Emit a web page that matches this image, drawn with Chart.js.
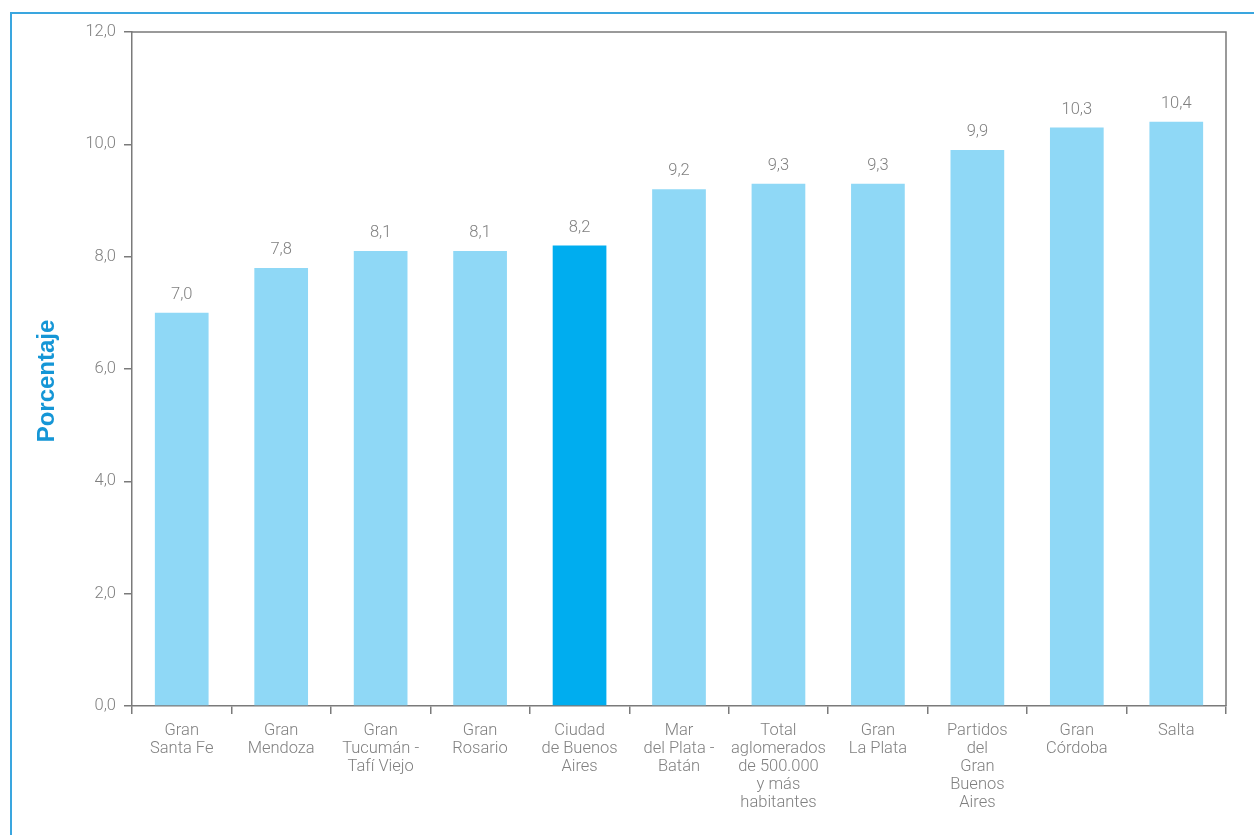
<!DOCTYPE html>
<html>
<head>
<meta charset="utf-8">
<script src="https://cdn.jsdelivr.net/npm/chart.js@4"></script>
<style>
  html, body { margin: 0; padding: 0; background: #fff; }
  #wrap { width: 1254px; height: 835px; position: relative; }
</style>
</head>
<body>
<div id="wrap"><canvas id="myChart" width="1254" height="835"></canvas></div>
<script>
const ctx = document.getElementById("myChart");

/* data */
var categories = [
  ["Gran", "Santa Fe"],
  ["Gran", "Mendoza"],
  ["Gran", "Tucumán -", "Tafí Viejo"],
  ["Gran", "Rosario"],
  ["Ciudad", "de Buenos", "Aires"],
  ["Mar", "del Plata -", "Batán"],
  ["Total", "aglomerados", "de 500.000", "y más", "habitantes"],
  ["Gran", "La Plata"],
  ["Partidos", "del", "Gran", "Buenos", "Aires"],
  ["Gran", "Córdoba"],
  ["Salta"],
];
var values = [7.0, 7.8, 8.1, 8.1, 8.2, 9.2, 9.3, 9.3, 9.9, 10.3, 10.4];
var highlight = 4; // Ciudad de Buenos Aires
var yTicks = [0, 2, 4, 6, 8, 10, 12];
var yTitle = "Porcentaje";

var lightBlue = "#8fd8f6";
var strongBlue = "#00adef";
var grey = "#808080";

function fmt(v) {
  return v.toFixed(1).replace(".", ",");
}

/* frame, plot border, axis title and value labels */
const extras = {
  id: "extras",
  beforeDraw(chart) {
    const c = chart.ctx;
    c.save();
    c.strokeStyle = "#3aa6df";
    c.lineWidth = 2;
    c.beginPath();
    c.moveTo(11, 900);
    c.lineTo(11, 13);
    c.lineTo(1300, 13);
    c.stroke();

    // y axis title
    c.translate(47, 381);
    c.rotate(-Math.PI / 2);
    c.fillStyle = "#1596d6";
    c.font = "bold 24px 'Liberation Sans', Arial";
    c.textAlign = "center";
    c.textBaseline = "middle";
    c.fillText(yTitle, 0, 0);
    c.restore();
  },
  afterDatasetsDraw(chart) {
    const c = chart.ctx;
    const a = chart.chartArea;
    c.save();
    c.strokeStyle = "#7a7a7a";
    c.lineWidth = 1.5;
    c.beginPath();
    c.moveTo(a.left, a.top);
    c.lineTo(a.right, a.top);
    c.lineTo(a.right, a.bottom);
    c.stroke();

    c.fillStyle = grey;
    c.font = "300 16.5px Roboto";
    c.textAlign = "center";
    c.textBaseline = "middle";
    const meta = chart.getDatasetMeta(0);
    meta.data.forEach(function (bar, i) {
      c.fillText(fmt(values[i]), bar.x, bar.y - 18);
    });
    c.restore();
  },
};

new Chart(ctx, {
  type: "bar",
  data: {
    labels: categories,
    datasets: [
      {
        data: values,
        backgroundColor: values.map((v, i) => (i === highlight ? strongBlue : lightBlue)),
        barPercentage: 0.54,
        categoryPercentage: 1,
      },
    ],
  },
  options: {
    responsive: false,
    animation: false,
    layout: { padding: { top: 32, right: 28, left: 10, bottom: 0 } },
    plugins: {
      legend: { display: false },
      tooltip: { enabled: false },
    },
    scales: {
      x: {
        grid: {
          display: true,
          drawOnChartArea: false,
          drawTicks: true,
          tickLength: 8,
          color: "#7a7a7a",
          lineWidth: 1.5,
        },
        border: { display: true, color: "#7a7a7a", width: 1.5 },
        ticks: {
          color: grey,
          font: { family: "Roboto", size: 16.5, weight: 300, lineHeight: 1.09 },
          padding: 8,
          maxRotation: 0,
          autoSkip: false,
        },
        afterFit(s) {
          s.height = 129;
        },
      },
      y: {
        min: 0,
        max: 12,
        afterBuildTicks(s) {
          s.ticks = yTicks.map((v) => ({ value: v }));
        },
        grid: {
          display: true,
          drawOnChartArea: false,
          drawTicks: true,
          tickLength: 8,
          color: "#7a7a7a",
          lineWidth: 1.5,
        },
        border: { display: true, color: "#7a7a7a", width: 1.5 },
        ticks: {
          color: grey,
          font: { family: "Roboto", size: 16.5, weight: 300 },
          padding: 8,
          callback: (v) => fmt(v),
        },
        afterFit(s) {
          s.width = 122;
        },
      },
    },
  },
  plugins: [extras],
});
</script>
</body>
</html>
